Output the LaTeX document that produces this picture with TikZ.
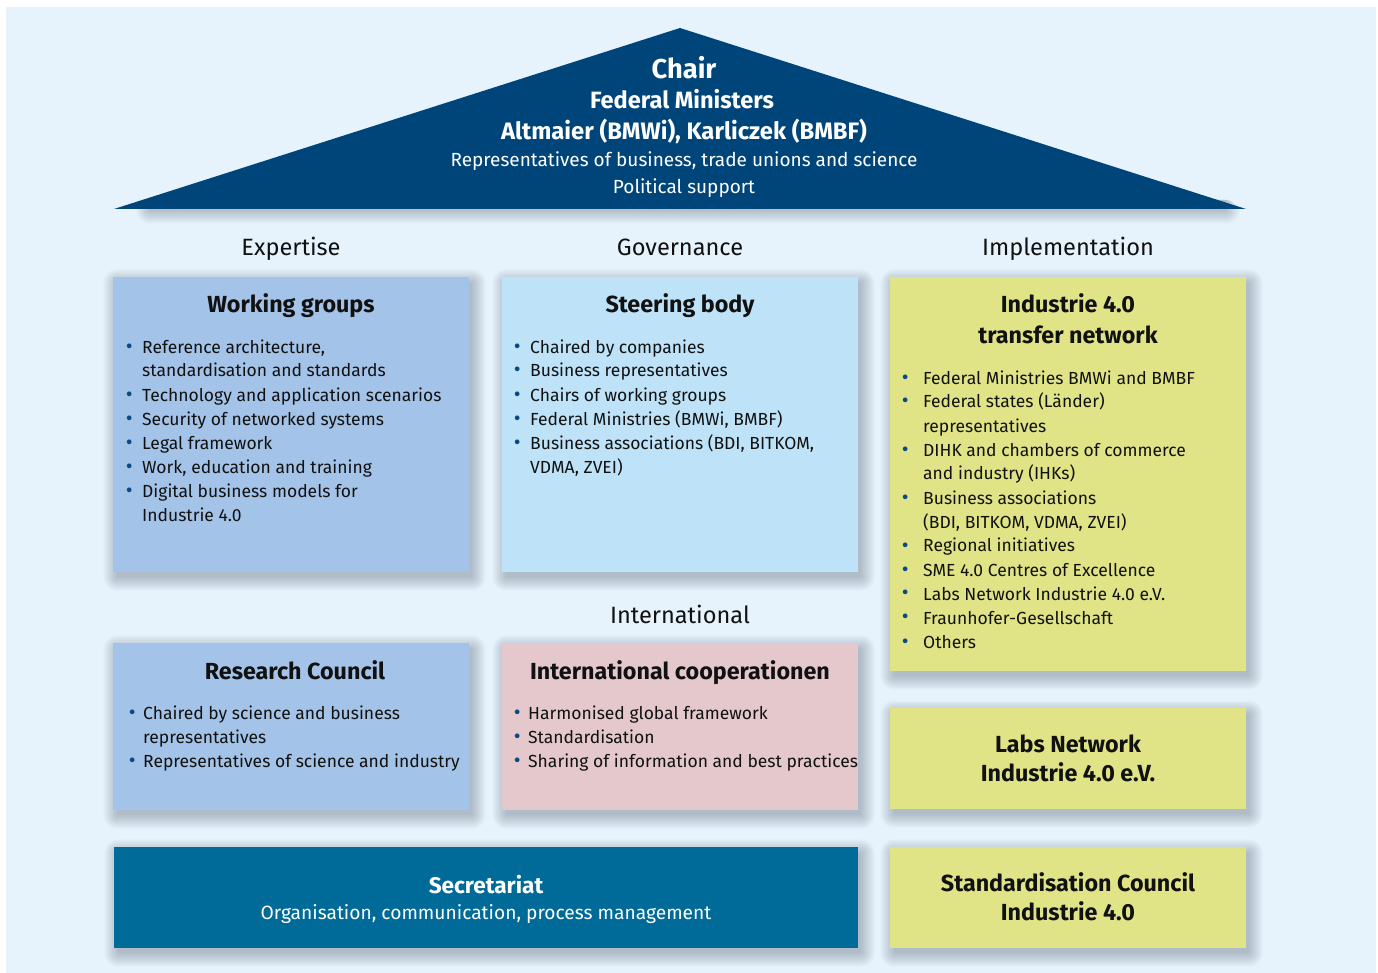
\documentclass[tikz,border=0pt]{standalone}
\usepackage{fontspec}
\setmainfont{Fira Sans}
\definecolor{bgc}{HTML}{E7F3FC}
\definecolor{navyc}{HTML}{00457A}
\definecolor{secc}{HTML}{006B98}
\definecolor{wgc}{HTML}{A4C3E8}
\definecolor{sbc}{HTML}{BEE3F8}
\definecolor{ylc}{HTML}{E0E486}
\definecolor{pkc}{HTML}{E4C8CC}
\definecolor{bulc}{HTML}{0B4A82}
\definecolor{txc}{HTML}{111111}
\definecolor{shc}{HTML}{2A3A50}
\newlength\bhang
\newcommand{\bl}{\par\hangindent=\bhang\hangafter=1\noindent\makebox[\bhang][l]{\makebox[0pt][c]{\textcolor{bulc}{\scalebox{1.2}{\textbullet}}}}}
\newcommand{\blist}[2]{\parbox[t]{380pt}{\setlength\bhang{#1}#2\par}}
\newcommand{\sshadow}[4]{%
  \foreach \i in {0,...,9}{%
    \pgfmathsetmacro\rr{1.5*\i}%
    \fill[shc, opacity=0.032, rounded corners=\rr pt]
      ({#1+4-\rr},{#2+6-\rr}) rectangle ({#3+3+\rr},{#4+5+\rr});}}
\begin{document}
\begin{tikzpicture}[x=1pt,y=-1pt,
  panel/.style={anchor=north west, inner sep=0pt, outer sep=0pt, draw=none},
  ttl/.style={anchor=base, inner sep=0pt, text=txc, font=\fontsize{23.3}{29}\selectfont\bfseries},
  head/.style={anchor=base, inner sep=0pt, text=txc, font=\fontsize{23.6}{28}\selectfont},
  lst/.style={anchor=base west, inner sep=0pt, text=txc, font=\fontsize{17.5}{24}\selectfont},
  wtxt/.style={anchor=base, inner sep=0pt, text=white}]
\useasboundingbox (0,0) rectangle (1378,973);
\fill[white] (0,0) rectangle (1378,973);
\fill[bgc] (6,7) rectangle (1376,973);

% roof shadow
\foreach \i in {0,...,9}{%
  \pgfmathsetmacro\rr{1.5*\i}%
  \fill[shc, opacity=0.03, rounded corners=\rr pt]
    ({150-\rr},{200}) rectangle ({1226+\rr},{210+\rr});}
% roof
\fill[navyc] (114,209) -- (680,28) -- (1246,209) -- cycle;
\node[wtxt, font=\fontsize{27.3}{30}\selectfont\bfseries] (chair) at (684,79) {Chair};
\node[wtxt, font=\fontsize{23.6}{26}\selectfont\bfseries] (fedmin) at (682,109) {Federal Ministers};
\node[wtxt, font=\fontsize{23.8}{26}\selectfont\bfseries] (names) at (684,140) {Altmaier (BMWi), Karliczek (BMBF)};
\node[wtxt, font=\fontsize{19}{22}\selectfont] (reps) at (684,167) {Representatives of business, trade unions and science};
\node[wtxt, font=\fontsize{19}{22}\selectfont] (polsup) at (684,194) {Political support};

% column headings
\node[head] (hexp) at (291,256) {Expertise};
\node[head] (hgov) at (680,256) {Governance};
\node[head] (himp) at (1068,256) {Implementation};
\node[head] (hint) at (680,623) {International};

% shadows
\sshadow{113}{277}{469}{572}
\sshadow{502}{277}{858}{572}
\sshadow{890}{277}{1246}{671}
\sshadow{113}{643}{469}{810}
\sshadow{502}{643}{858}{810}
\sshadow{890}{708}{1246}{809}
\sshadow{114}{847}{858}{948}
\sshadow{890}{847}{1246}{948}

% panels
\node[panel, fill=wgc, minimum width=356pt, minimum height=295pt] (wg) at (113,277) {};
\node[panel, fill=sbc, minimum width=356pt, minimum height=295pt] (sb) at (502,277) {};
\node[panel, fill=ylc, minimum width=356pt, minimum height=394pt] (tn) at (890,277) {};
\node[panel, fill=wgc, minimum width=356pt, minimum height=167pt] (rc) at (113,643) {};
\node[panel, fill=pkc, minimum width=356pt, minimum height=167pt] (ic) at (502,643) {};
\node[panel, fill=ylc, minimum width=356pt, minimum height=101pt] (ln) at (890,708) {};
\node[panel, fill=secc, minimum width=744pt, minimum height=101pt] (sec) at (114,847) {};
\node[panel, fill=ylc, minimum width=356pt, minimum height=101pt] (sc) at (890,847) {};

% Working groups
\node[ttl] (wgt) at (291,313) {Working groups};
\node[lst] (wgl) at (129,353) {\blist{13pt}{%
\bl Reference architecture,\\standardisation and standards
\bl Technology and application scenarios
\bl Security of networked systems
\bl Legal framework
\bl Work, education and training
\bl Digital business models for\\Industrie 4.0}};

% Steering body
\node[ttl] (sbt) at (680,313) {Steering body};
\node[lst] (sbl) at (517,353) {\blist{13pt}{%
\bl Chaired by companies
\bl Business representatives
\bl Chairs of working groups
\bl Federal Ministries (BMWi, BMBF)
\bl Business associations (BDI, BITKOM,\\VDMA, ZVEI)}};

% Transfer network
\node[ttl] (tnt) at (1068,313) {\parbox[t]{340pt}{\centering Industrie 4.0\\[2pt]transfer network}};
\node[lst] (tnl) at (905,384) {\blist{18pt}{%
\bl Federal Ministries BMWi and BMBF
\bl Federal states (Länder)\\representatives
\bl DIHK and chambers of commerce\\and industry (IHKs)
\bl Business associations\\(BDI, BITKOM, VDMA, ZVEI)
\bl Regional initiatives
\bl SME 4.0 Centres of Excellence
\bl Labs Network Industrie 4.0 e.V.
\bl Fraunhofer-Gesellschaft
\bl Others}};

% Research Council
\node[ttl] (rct) at (295,679) {Research Council};
\node[lst] (rcl) at (132,719) {\blist{11pt}{%
\bl Chaired by science and business\\representatives
\bl Representatives of science and industry}};

% International cooperation
\node[ttl] (ict) at (680,679) {International cooperationen};
\node[lst] (icl) at (517,719) {\blist{11pt}{%
\bl Harmonised global framework
\bl Standardisation
\bl Sharing of information and best practices}};

% Labs network
\node[ttl] (lnt) at (1068,752) {\parbox[t]{340pt}{\centering Labs Network\\Industrie 4.0 e.V.}};
% Secretariat
\node[wtxt, font=\fontsize{22.6}{26}\selectfont\bfseries] (sect) at (486,893) {Secretariat};
\node[wtxt, font=\fontsize{19.2}{22}\selectfont] (secl) at (486,919) {Organisation, communication, process management};
% Standardisation council
\node[ttl] (sct) at (1068,891) {\parbox[t]{340pt}{\centering Standardisation Council\\Industrie 4.0}};
\end{tikzpicture}
\end{document}
